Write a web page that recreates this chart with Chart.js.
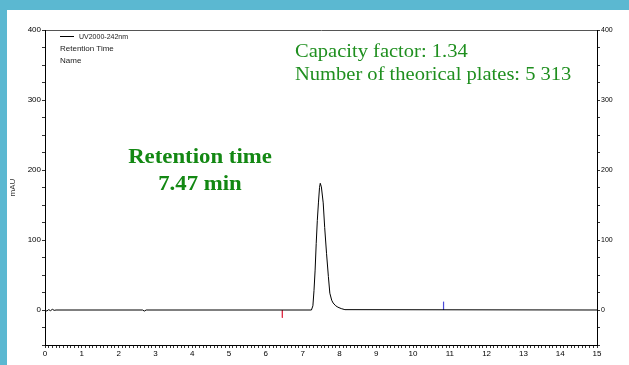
<!DOCTYPE html>
<html lang="en">
<head>
  <meta charset="UTF-8">
  <title>Chromatogram</title>
  <script src="https://cdn.jsdelivr.net/npm/chart.js"></script>
  <style>
    html, body { margin: 0; padding: 0; }
    body { width: 629px; height: 365px; background: #5bb8d1; position: relative; overflow: hidden; }
    .panel { position: absolute; left: 7px; top: 10px; right: 0; bottom: 0; background: #fff; }
    canvas { position: absolute; left: 0; top: 0; }
    .legend { position: absolute; left: 60px; top: 31px; font-family: 'Liberation Sans Narrow', 'Liberation Sans', Arial, sans-serif; font-size: 8px; color: #222; line-height: 12px; }
    .legend .sw { display: inline-block; width: 14px; border-top: 1px solid #000; vertical-align: middle; margin-right: 5px; }
    .legend .uv { font-size: 7px; }
    .note { position: absolute; font-family: 'Liberation Serif', 'Times New Roman', serif; color: #1f8f1f; white-space: nowrap; }
    .info { left: 295px; top: 40px; font-size: 18px; line-height: 23px; transform: scaleX(1.14); transform-origin: left top; }
    .rt { left: 101px; top: 143px; width: 198px; text-align: center; font-size: 20px; font-weight: bold; line-height: 27px; color: #138813; transform: scaleX(1.14); transform-origin: center top; }
  </style>
</head>
<body>
  <div class="panel"></div>
  <canvas id="chromChart" width="629" height="365"></canvas>

  <div class="legend">
    <div><span class="sw"></span><span class="uv">UV2000-242nm</span></div>
    <div>Retention Time</div>
    <div>Name</div>
  </div>
  <div class="note info">Capacity factor: 1.34<br>Number of theorical plates: 5 313</div>
  <div class="note rt">Retention time<br>7.47 min</div>

  <script>
    // signal (time in min, absorbance in mAU)
    const times  = [0, 0.05, 0.1, 0.15, 0.2, 0.25, 0.3, 2.65, 2.7, 2.75, 7.24, 7.28, 7.31, 7.34, 7.37, 7.40, 7.43, 7.46, 7.48, 7.51, 7.56, 7.60, 7.65, 7.70, 7.74, 7.79, 7.83, 7.90, 7.96, 8.05, 8.15, 15];
    const signal = [0, -1.5, 0.5, -1, 1, -0.5, 0, 0, -1.5, 0, 0, 6, 28, 57, 95, 128, 153, 175, 181, 176, 153, 118, 81, 48, 24, 14, 10, 6, 4, 2, 0.5, 0];

    // integration markers
    const startMarkerTime = 6.45;
    const startMarkerVals = [0, -11];
    const endMarkerTime = 10.83;
    const endMarkerVals = [0, 12];

    const xTicksMin = 0, xTicksMax = 15;
    const yTicksMin = -50, yTicksMax = 400;

    const tickFont = { family: "'Liberation Sans Narrow', 'Liberation Sans', Arial, sans-serif", size: 8 };

    const signalPoints = times.map((t, i) => ({ x: t, y: signal[i] }));
    const startMarker = startMarkerVals.map(v => ({ x: startMarkerTime, y: v }));
    const endMarker = endMarkerVals.map(v => ({ x: endMarkerTime, y: v }));

    function wholeLabel(step) {
      return function (value) {
        const r = Math.round(value / step) * step;
        return Math.abs(value - r) < 1e-6 ? String(r) : '';
      };
    }

    const ctx = document.getElementById('chromChart').getContext('2d');
    new Chart(ctx, {
      type: 'line',
      data: {
        datasets: [
          { label: 'UV2000-242nm', data: signalPoints, borderColor: '#000', borderWidth: 1, pointRadius: 0, tension: 0 },
          { label: 'start', data: startMarker, borderColor: '#e0304a', borderWidth: 1, pointRadius: 0 },
          { label: 'end', data: endMarker, borderColor: '#4a4ad8', borderWidth: 1.2, pointRadius: 0 }
        ]
      },
      options: {
        responsive: false,
        animation: false,
        layout: { padding: 0 },
        plugins: { legend: { display: false }, tooltip: { enabled: false } },
        scales: {
          x: {
            type: 'linear', position: 'bottom', min: xTicksMin, max: xTicksMax,
            ticks: { stepSize: 0.1, autoSkip: false, maxRotation: 0, font: tickFont, color: '#000', padding: 1, callback: wholeLabel(1) },
            grid: { drawOnChartArea: false, tickLength: 3, color: '#333' },
            border: { color: '#000', width: 1 },
            afterFit: s => { s.height = 20; }
          },
          xTop: {
            type: 'linear', position: 'top', min: xTicksMin, max: xTicksMax,
            ticks: { display: false },
            grid: { display: false },
            border: { color: '#555', width: 1, dash: [2, 2] },
            afterFit: s => { s.height = 30; }
          },
          y: {
            position: 'left', min: yTicksMin, max: yTicksMax,
            ticks: { stepSize: 25, autoSkip: false, font: tickFont, color: '#000', padding: 1, callback: wholeLabel(100) },
            grid: { drawOnChartArea: false, tickLength: 3, color: '#333' },
            border: { color: '#000', width: 1 },
            title: { display: true, text: 'mAU', font: tickFont, color: '#333', padding: { top: 8, bottom: 0 } },
            afterFit: s => { s.width = 45; }
          },
          y2: {
            position: 'right', min: yTicksMin, max: yTicksMax,
            ticks: { stepSize: 25, autoSkip: false, font: { family: tickFont.family, size: 7 }, color: '#000', padding: 1, callback: wholeLabel(100) },
            grid: { drawOnChartArea: false, tickLength: 3, color: '#333' },
            border: { color: '#000', width: 1 },
            afterFit: s => { s.width = 32; }
          }
        }
      }
    });
  </script>
</body>
</html>
